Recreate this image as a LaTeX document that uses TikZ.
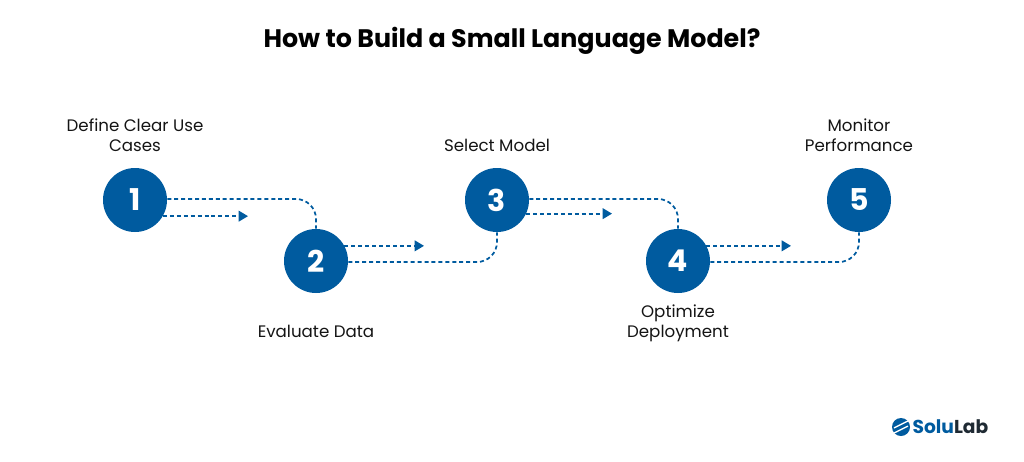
\documentclass[tikz,border=0pt]{standalone}
\usepackage{fontspec}
\setmainfont{Poppins}
\usetikzlibrary{positioning,arrows.meta}
\definecolor{tblue}{HTML}{005B9F}
\definecolor{tdark}{HTML}{141414}
\definecolor{tlogo}{HTML}{1F2A33}

\begin{document}
\begin{tikzpicture}[
    x=0.75pt, y=-0.75pt,
    >={Triangle[length=7pt,width=8pt]},
    etape/.style={circle, fill=tblue, text=white, minimum size=48pt, inner sep=0pt,
                  font=\fontsize{22.5}{24}\selectfont\bfseries},
    legende/.style={align=center, text=tdark, font=\fontsize{12.5}{15}\selectfont},
    lien/.style={tblue, line width=1.3pt, dash pattern=on 3pt off 2.2pt},
    coude/.style={lien, rounded corners=15pt}
  ]
  \useasboundingbox (0,0) rectangle (1024,461);
  \node[font=\fontsize{19}{22}\selectfont\bfseries, text=black] (titre) at (512,41) {How to Build a Small Language Model?};

  \node[etape] (un) at (135,200) {1};
  \node[etape] (deux) at (316,261) {2};
  \node[etape] (trois) at (497,200) {3};
  \node[etape] (quatre) at (678,261) {4};
  \node[etape] (cinq) at (859,200) {5};

  \node[legende] (def) [above=8.5pt of un] {Define Clear Use \\ Cases};
  \node[legende] (eval) [below=20.5pt of deux] {Evaluate Data};
  \node[legende] (sel) [above=8.5pt of trois] {Select Model};
  \node[legende] (opt) [below=5pt of quatre] {Optimize \\ Deployment};
  \node[legende] (mon) [above=8.5pt of cinq] {Monitor \\ Performance};

  \coordinate (f1) at (248,216);
  \coordinate (f2) at (424,246);
  \coordinate (f3) at (612,213);
  \coordinate (f4) at (791,246);

  \draw[coude] ([yshift=0.75pt]un.east) -| (deux.north);
  \draw[lien,->] (un.-30) -- (un.-30 -| f1);
  \draw[coude] ([yshift=-0.75pt]deux.east) -| (trois.south);
  \draw[lien,->] (deux.28) -- (deux.28 -| f2);
  \draw[coude] ([yshift=0.75pt]trois.east) -| (quatre.north);
  \draw[lien,->] (trois.-25) -- (trois.-25 -| f3);
  \draw[coude] ([yshift=-0.75pt]quatre.east) -| (cinq.south);
  \draw[lien,->] (quatre.28) -- (quatre.28 -| f4);

  % logo
  \node[circle, fill=tblue, minimum size=13.5pt, inner sep=0pt] (icone) at (901,427) {};
  \foreach \d in {-2.6,2.6} {
    \draw[white, line width=1pt] ([shift={(-7,{\d+3.5})}]icone.center) -- ([shift={(7,{\d-3.5})}]icone.center);
  }
  \node[font=\fontsize{14}{16}\selectfont\bfseries, inner sep=0pt, anchor=west] (logo) [right=1.5pt of icone] {\textcolor{tblue}{Solu}\textcolor{tlogo}{Lab}};
\end{tikzpicture}
\end{document}
